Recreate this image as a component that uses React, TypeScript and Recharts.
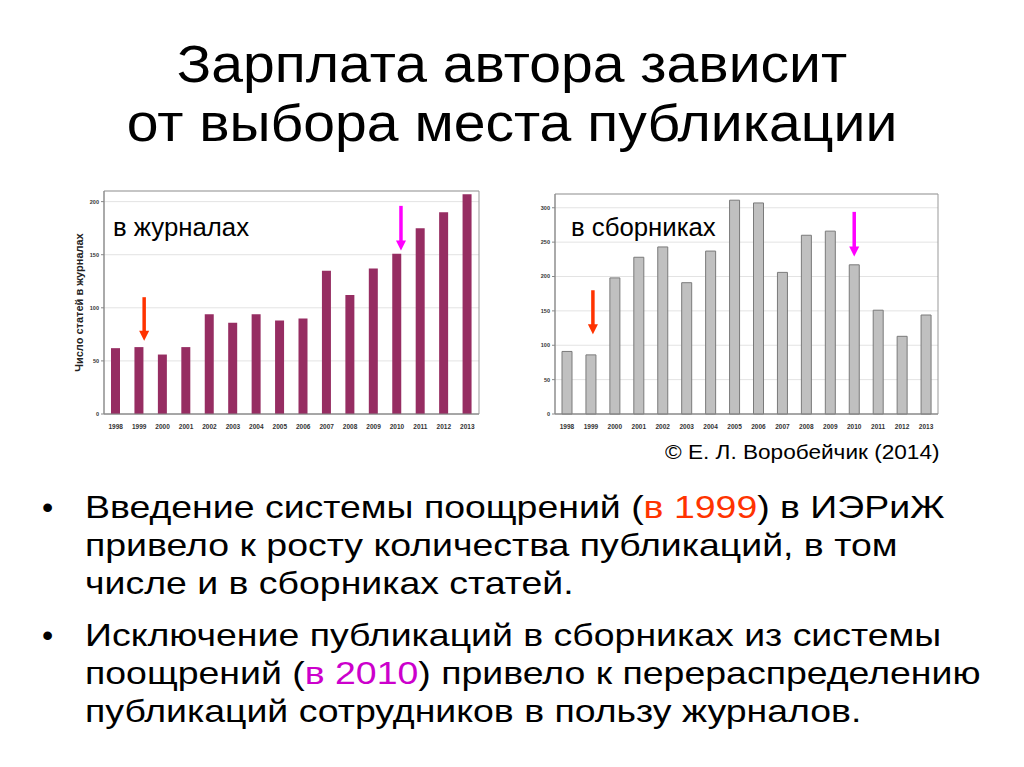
import React from 'react';
import { BarChart, Bar, XAxis, YAxis, CartesianGrid, ReferenceArea, ReferenceLine } from 'recharts';

const years = ['1998', '1999', '2000', '2001', '2002', '2003', '2004', '2005', '2006', '2007', '2008', '2009', '2010', '2011', '2012', '2013'];
const journals = [62, 63, 56, 63, 94, 86, 94, 88, 90, 135, 112, 137, 151, 175, 190, 207];
const collections = [91, 86, 198, 228, 243, 191, 237, 311, 307, 206, 260, 266, 217, 151, 113, 144];
const journalTicks = [0, 50, 100, 150, 200];
const collectionTicks = [0, 50, 100, 150, 200, 250, 300];

const FONT = '"Liberation Sans", Arial, sans-serif';
const RED = '#ff3300';
const MAGENTA = '#ff00ff';

const journalData = years.map((y, i) => ({ year: y, value: journals[i] }));
const collectionData = years.map((y, i) => ({ year: y, value: collections[i] }));

// arrow drawn by ReferenceLine shape, dx nudges it off the bar centre
const arrowShape = (color: string, dx: number) => (props: any) => {
  const { x1, y1, x2, y2 } = props;
  const head = 10;
  const x = x2 + dx;
  return (
    <g>
      <line x1={x1 + dx} y1={y1} x2={x} y2={y2 - head + 1} stroke={color} strokeWidth={3.5} />
      <polygon points={`${x - 5},${y2 - head} ${x + 5},${y2 - head} ${x},${y2}`} fill={color} />
    </g>
  );
};

const tickStyle = { fontSize: 6.5, fill: '#333', fontWeight: 'bold' as const, fontFamily: FONT };

function JournalChart() {
  return (
    <BarChart width={430} height={255} data={journalData} margin={{ top: 8, right: 11, left: 0, bottom: 0 }} barSize={9}>
      <CartesianGrid vertical={false} stroke="#e3e3e3" />
      <ReferenceArea y1={0} y2={210} fill="none" stroke="#999" strokeWidth={1} ifOverflow="visible" />
      <XAxis dataKey="year" height={24} tickLine={false} axisLine={{ stroke: '#888' }} tick={tickStyle} interval={0} tickMargin={4} />
      <YAxis
        width={44}
        domain={[0, 210]}
        ticks={journalTicks}
        tickSize={3}
        tickMargin={2}
        axisLine={{ stroke: '#888' }}
        tickLine={{ stroke: '#888' }}
        tick={{ ...tickStyle, fontSize: 5.5 }}
        label={{ value: 'Число статей в журналах', angle: -90, position: 'insideLeft', offset: 19, style: { fontSize: 11, fontWeight: 'bold', fill: '#222', fontFamily: FONT, textAnchor: 'middle' } }}
      />
      <Bar dataKey="value" fill="#962d62" isAnimationActive={false} />
      <ReferenceLine segment={[{ x: '1999', y: 110 }, { x: '1999', y: 69 }]} shape={arrowShape(RED, 5)} ifOverflow="visible" />
      <ReferenceLine segment={[{ x: '2010', y: 196 }, { x: '2010', y: 154 }]} shape={arrowShape(MAGENTA, 4)} ifOverflow="visible" />
    </BarChart>
  );
}

function CollectionChart() {
  return (
    <BarChart width={425} height={252} data={collectionData} margin={{ top: 8, right: 7, left: 0, bottom: 0 }} barSize={10}>
      <CartesianGrid vertical={false} stroke="#e3e3e3" />
      <ReferenceArea y1={0} y2={320} fill="none" stroke="#999" strokeWidth={1} ifOverflow="visible" />
      <XAxis dataKey="year" height={24} tickLine={false} axisLine={{ stroke: '#888' }} tick={tickStyle} interval={0} tickMargin={4} />
      <YAxis
        width={35}
        domain={[0, 320]}
        ticks={collectionTicks}
        tickSize={3}
        tickMargin={2}
        axisLine={{ stroke: '#888' }}
        tickLine={{ stroke: '#888' }}
        tick={{ ...tickStyle, fontSize: 5.5 }}
      />
      <Bar dataKey="value" fill="#c0c0c0" stroke="#7a7a7a" strokeWidth={1} isAnimationActive={false} />
      <ReferenceLine segment={[{ x: '1999', y: 180 }, { x: '1999', y: 116 }]} shape={arrowShape(RED, 2)} ifOverflow="visible" />
      <ReferenceLine segment={[{ x: '2010', y: 294 }, { x: '2010', y: 229 }]} shape={arrowShape(MAGENTA, 0)} ifOverflow="visible" />
    </BarChart>
  );
}

export default function App() {
  const abs = (left: number, top: number): React.CSSProperties => ({ position: 'absolute', left, top });
  const stretch = (k: number, origin = 'left'): React.CSSProperties => ({ transform: `scaleX(${k})`, transformOrigin: origin });
  const bodyText: React.CSSProperties = { fontSize: 32, lineHeight: '38px', color: '#000', whiteSpace: 'nowrap' };
  return (
    <div style={{ position: 'absolute', left: 0, top: 0, width: 1024, height: 767, background: '#fff', fontFamily: FONT, overflow: 'hidden' }}>
      <div style={{ position: 'absolute', left: 0, top: 35, width: 1024, textAlign: 'center', fontSize: 51, lineHeight: '59px', color: '#000', ...stretch(1.12, 'center') }}>
        Зарплата автора зависит
        <br />
        от выбора места публикации
      </div>

      <div style={abs(60, 183)}>
        <JournalChart />
      </div>
      <div style={{ ...abs(113, 213), fontSize: 25, color: '#000', whiteSpace: 'nowrap', ...stretch(1.03) }}>в журналах</div>

      <div style={abs(520, 186)}>
        <CollectionChart />
      </div>
      <div style={{ ...abs(571, 213), fontSize: 25, color: '#000', whiteSpace: 'nowrap', ...stretch(1.03) }}>в сборниках</div>

      <div style={{ ...abs(665, 441), fontSize: 20, color: '#000', whiteSpace: 'nowrap', ...stretch(1.13) }}>© Е. Л. Воробейчик (2014)</div>

      <div style={{ ...abs(42, 488), ...bodyText }}>•</div>
      <div style={{ ...abs(85, 488), ...bodyText, ...stretch(1.17) }}>
        Введение системы поощрений (<span style={{ color: RED }}>в 1999</span>) в ИЭРиЖ
        <br />
        привело к росту количества публикаций, в том
        <br />
        числе и в сборниках статей.
      </div>

      <div style={{ ...abs(42, 616), ...bodyText }}>•</div>
      <div style={{ ...abs(85, 616), ...bodyText, ...stretch(1.17) }}>
        Исключение публикаций в сборниках из системы
        <br />
        поощрений (<span style={{ color: '#cc00cc' }}>в 2010</span>) привело к перераспределению
        <br />
        публикаций сотрудников в пользу журналов.
      </div>
    </div>
  );
}
